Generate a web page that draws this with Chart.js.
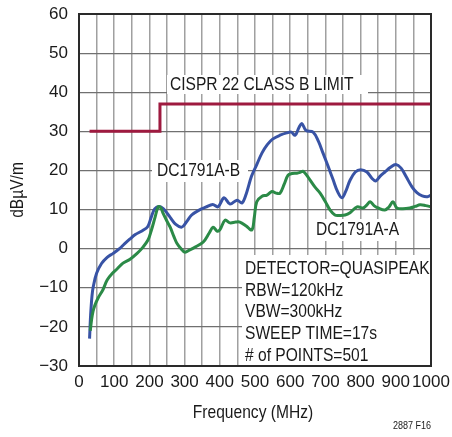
<!DOCTYPE html>
<html>
<head>
<meta charset="utf-8">
<script src="https://cdn.jsdelivr.net/npm/chart.js@4/dist/chart.umd.min.js"></script>
<style>
  html, body { margin: 0; padding: 0; background: #ffffff; }
  #wrap { width: 452px; height: 437px; position: relative; }
</style>
</head>
<body>
<div id="wrap"><canvas id="c" width="452" height="437"></canvas></div>
<script>
// ---- data ----
const freqB = [30, 33, 37, 41, 50, 64, 80, 97, 115, 130, 145, 160, 180, 195, 205, 215, 228, 240, 259, 275, 292, 305, 320, 340, 360, 380, 395, 412, 429, 449, 463, 475, 490, 505, 520, 535, 550, 571, 590, 603, 614, 625, 633, 645, 665, 680, 693, 708, 722, 735, 747, 757, 770, 785, 800, 818, 832, 843, 855, 869, 885, 900, 915, 930, 946, 960, 975, 990, 1000];
const dbB   = [-23, -17, -12, -9.5, -6.3, -3.8, -2.2, -1.2, 0, 1.3, 2.5, 3.6, 4.6, 5.6, 8, 10.2, 10.8, 10.2, 8, 6.2, 5.5, 6.8, 8.6, 9.8, 10.6, 11.3, 10.7, 13, 11.4, 12.4, 11.7, 14, 18.5, 21.5, 24.5, 26.6, 28, 29, 29.6, 29.8, 29, 31, 32, 30.2, 29.8, 27.5, 24.5, 21, 17.6, 14.5, 13, 14.5, 17.5, 19.6, 20.2, 19.6, 18, 17.3, 18.5, 19.6, 20.8, 21.5, 20.6, 18.3, 15.8, 14.3, 13.5, 13.3, 13.7];

const freqA = [32, 36, 40, 45, 55, 68, 80, 95, 108, 125, 145, 165, 180, 196, 205, 216, 225, 232, 239, 250, 259, 270, 278, 290, 301, 315, 330, 353, 370, 381, 392, 400, 415, 429, 445, 457, 475, 491, 498, 505, 520, 534, 548, 560, 571, 583, 594, 605, 619, 628, 636, 645, 656, 670, 685, 700, 713, 727, 740, 756, 770, 790, 807, 818, 827, 838, 850, 869, 880, 892, 903, 920, 940, 955, 969, 985, 1000];
const dbA   = [-21, -18, -16, -14.5, -12.5, -10.5, -8, -6.3, -5.2, -3.7, -2.7, -1.2, 0.2, 2.2, 4.5, 8, 10.7, 10.5, 9, 7, 5.5, 3, 1.4, 0, -0.9, -0.3, 0.4, 1.7, 4, 5.5, 4.5, 4.8, 7.3, 6.6, 6.8, 6.8, 5.8, 4.8, 8, 12, 13.4, 13.7, 14.6, 14.2, 14.2, 16.5, 18.8, 19.2, 19.3, 19.5, 19.8, 19, 17.6, 15.8, 14.2, 12, 9.9, 8.6, 8.5, 8.6, 9.2, 10.7, 10.4, 11.2, 12, 11, 10.4, 9.9, 10.6, 12, 10.4, 10.2, 10.4, 10.8, 11.2, 11, 10.7];

const limitFreq = [30, 230, 230, 1000];
const limitDb   = [30, 30, 37, 37];

const xGridValues = [0, 50, 100, 150, 200, 250, 300, 350, 400, 450, 500, 550, 600, 650, 700, 750, 800, 850, 900, 950, 1000];
const xTickLabels = ['0', '100', '200', '300', '400', '500', '600', '700', '800', '900', '1000'];
const yTickValues = [-30, -20, -10, 0, 10, 20, 30, 40, 50, 60];
const yTickLabels = ['\u221230', '\u221220', '\u221210', '0', '10', '20', '30', '40', '50', '60'];

const seriesNames = ['DC1791A-B', 'DC1791A-A', 'CISPR 22 CLASS B LIMIT'];
const xTitle = 'Frequency (MHz)';
const yTitle = 'dB\u00B5V/m';
const noteLines = ['DETECTOR=QUASIPEAK', 'RBW=120kHz', 'VBW=300kHz', 'SWEEP TIME=17s', '# of POINTS=501'];
const figId = '2887 F16';

// ---- chart ----
const FONT = "'Liberation Sans', Arial, sans-serif";
const SQ = 0.82; // horizontal condensing to mimic a condensed face
const toPts = (xs, ys) => xs.map((x, i) => ({ x: x, y: ys[i] }));

function narrowText(ctx, text, x, y, align) {
  ctx.save();
  ctx.translate(x, y);
  ctx.scale(SQ, 1);
  ctx.textAlign = align;
  ctx.fillText(text, 0, 0);
  ctx.restore();
}

const overlay = {
  id: 'overlay',
  beforeDatasetsDraw(chart) {
    const ctx = chart.ctx;
    const xs = chart.scales.x, ys = chart.scales.y;
    ctx.save();
    ctx.fillStyle = '#ffffff';
    // label boxes (cover grid only)
    ctx.fillRect(167, 75, 201, 19);
    ctx.fillRect(152, 160, 96, 22);
    ctx.fillRect(311, 219, 94, 22);
    ctx.fillRect(242, 255, xs.right - 242, ys.bottom - 255);
    ctx.restore();
  },
  afterDatasetsDraw(chart) {
    const ctx = chart.ctx;
    const a = chart.chartArea;
    ctx.save();
    // frame
    ctx.strokeStyle = '#2a2a2a';
    ctx.lineWidth = 2;
    ctx.strokeRect(a.left, a.top, a.right - a.left, a.bottom - a.top);
    // annotation texts
    ctx.fillStyle = '#1a1a1a';
    ctx.textBaseline = 'middle';
    ctx.font = '19px ' + FONT;
    narrowText(ctx, seriesNames[2], 170, 85, 'left');
    narrowText(ctx, seriesNames[0], 157, 171, 'left');
    narrowText(ctx, seriesNames[1], 316, 230, 'left');
    noteLines.forEach((t, i) => narrowText(ctx, t, 245, 269 + i * 21.6, 'left'));
    // axis titles
    narrowText(ctx, xTitle, 253, 413, 'center');
    ctx.save();
    ctx.translate(18, 190);
    ctx.rotate(-Math.PI / 2);
    narrowText(ctx, yTitle, 0, 0, 'center');
    ctx.restore();
    ctx.font = '11px ' + FONT;
    narrowText(ctx, figId, 431, 426, 'right');
    ctx.restore();
  }
};

new Chart(document.getElementById('c'), {
  type: 'line',
  data: {
    datasets: [
      { label: seriesNames[2], data: toPts(limitFreq, limitDb), borderColor: '#9e1a3f', borderWidth: 3, pointRadius: 0, tension: 0, fill: false },
      { label: seriesNames[1], data: toPts(freqA, dbA), borderColor: '#2b8a47', borderWidth: 3, pointRadius: 0, tension: 0.35, fill: false },
      { label: seriesNames[0], data: toPts(freqB, dbB), borderColor: '#3853a5', borderWidth: 3, pointRadius: 0, tension: 0.35, fill: false }
    ]
  },
  options: {
    responsive: false,
    animation: false,
    events: [],
    layout: { padding: { top: 14, right: 21, left: 0, bottom: 0 } },
    plugins: { legend: { display: false }, tooltip: { enabled: false } },
    scales: {
      x: {
        type: 'linear', min: 0, max: 1000,
        afterBuildTicks: (s) => { s.ticks = xGridValues.map(v => ({ value: v })); },
        afterFit: (s) => { s.height = 71; s.paddingLeft = 0; s.paddingRight = 0; },
        ticks: {
          autoSkip: false, maxRotation: 0, minRotation: 0, padding: 6,
          color: '#1a1a1a', font: { family: FONT, size: 17 },
          callback: (v) => (v % 100 === 0 ? xTickLabels[v / 100] : '')
        },
        grid: { color: '#a0a0a0', lineWidth: 1.5, drawTicks: false },
        border: { display: false }
      },
      y: {
        type: 'linear', min: -30, max: 60,
        afterBuildTicks: (s) => { s.ticks = yTickValues.map(v => ({ value: v })); },
        afterFit: (s) => { s.width = 79; s.paddingTop = 0; s.paddingBottom = 0; },
        ticks: {
          padding: 11, color: '#1a1a1a', font: { family: FONT, size: 17 },
          callback: (v) => yTickLabels[yTickValues.indexOf(v)]
        },
        grid: { color: '#707070', lineWidth: 1.2, drawTicks: false },
        border: { display: false }
      }
    }
  },
  plugins: [overlay]
});
</script>
</body>
</html>
